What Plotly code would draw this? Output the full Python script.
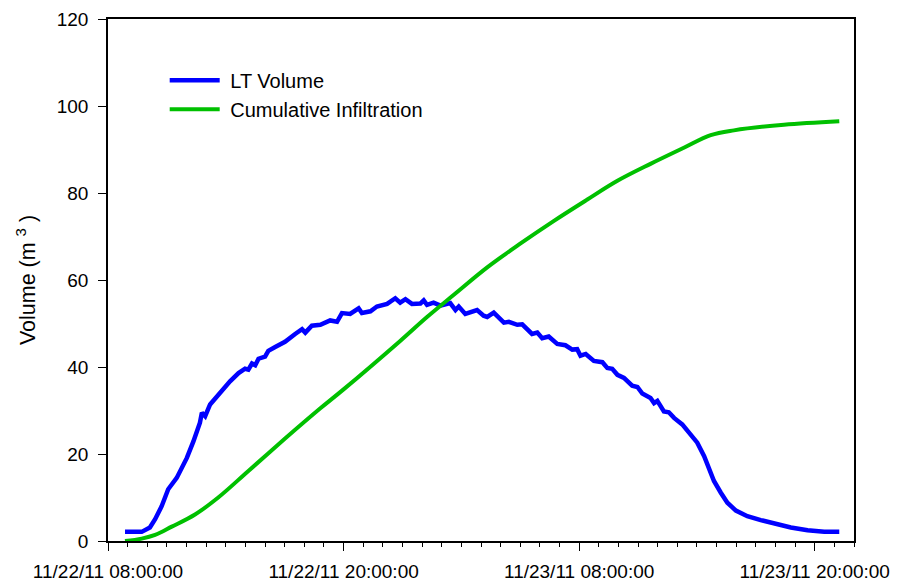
import plotly.graph_objs as go

# LT volume readings
lt_time = ["2011-11-22 08:52", "2011-11-22 09:43", "2011-11-22 10:08", "2011-11-22 10:24",
           "2011-11-22 10:44", "2011-11-22 11:04", "2011-11-22 11:30", "2011-11-22 12:01",
           "2011-11-22 12:21", "2011-11-22 12:41", "2011-11-22 12:47", "2011-11-22 12:57",
           "2011-11-22 13:12", "2011-11-22 13:37", "2011-11-22 14:03", "2011-11-22 14:13",
           "2011-11-22 14:39", "2011-11-22 14:59", "2011-11-22 15:09", "2011-11-22 15:20",
           "2011-11-22 15:30", "2011-11-22 15:40", "2011-11-22 16:00", "2011-11-22 16:10",
           "2011-11-22 16:31", "2011-11-22 17:01", "2011-11-22 17:32", "2011-11-22 17:53",
           "2011-11-22 18:03", "2011-11-22 18:23", "2011-11-22 18:49", "2011-11-22 19:19",
           "2011-11-22 19:40", "2011-11-22 19:55", "2011-11-22 20:20", "2011-11-22 20:46",
           "2011-11-22 20:56", "2011-11-22 21:22", "2011-11-22 21:42", "2011-11-22 22:13",
           "2011-11-22 22:38", "2011-11-22 22:53", "2011-11-22 23:09", "2011-11-22 23:29",
           "2011-11-22 23:55", "2011-11-23 00:05", "2011-11-23 00:15", "2011-11-23 00:35",
           "2011-11-23 00:56", "2011-11-23 01:16", "2011-11-23 01:26", "2011-11-23 01:42",
           "2011-11-23 01:52", "2011-11-23 02:12", "2011-11-23 02:28", "2011-11-23 02:48",
           "2011-11-23 03:08", "2011-11-23 03:19", "2011-11-23 03:39", "2011-11-23 04:10",
           "2011-11-23 04:25", "2011-11-23 04:51", "2011-11-23 05:06", "2011-11-23 05:36",
           "2011-11-23 05:52", "2011-11-23 06:07", "2011-11-23 06:27", "2011-11-23 06:53",
           "2011-11-23 07:18", "2011-11-23 07:39", "2011-11-23 07:54", "2011-11-23 08:04",
           "2011-11-23 08:20", "2011-11-23 08:45", "2011-11-23 09:11", "2011-11-23 09:26",
           "2011-11-23 09:41", "2011-11-23 09:57", "2011-11-23 10:17", "2011-11-23 10:42",
           "2011-11-23 10:58", "2011-11-23 11:13", "2011-11-23 11:38", "2011-11-23 11:49",
           "2011-11-23 11:59", "2011-11-23 12:19", "2011-11-23 12:34", "2011-11-23 12:50",
           "2011-11-23 13:15", "2011-11-23 13:41", "2011-11-23 14:01", "2011-11-23 14:22",
           "2011-11-23 14:37", "2011-11-23 14:52", "2011-11-23 15:13", "2011-11-23 15:33",
           "2011-11-23 15:59", "2011-11-23 16:34", "2011-11-23 17:15", "2011-11-23 17:56",
           "2011-11-23 18:47", "2011-11-23 19:38", "2011-11-23 20:29", "2011-11-23 21:15"]
lt_volume = [2.1, 2.1, 3.1, 5.0,
             8.0, 11.9, 14.5, 19.1,
             22.9, 27.2, 29.5, 28.7,
             31.4, 33.6, 35.9, 36.7,
             38.6, 39.6, 39.4, 40.8,
             40.4, 41.9, 42.4, 43.7,
             44.6, 45.8, 47.6, 48.7,
             47.9, 49.5, 49.7, 50.7,
             50.4, 52.4, 52.2, 53.5,
             52.4, 52.8, 53.9, 54.5,
             55.8, 54.8, 55.6, 54.5,
             54.6, 55.3, 54.3, 54.8,
             54.1, 54.5, 54.7, 53.1,
             53.9, 52.2, 52.7, 53.1,
             51.8, 51.5, 52.5, 50.2,
             50.4, 49.7, 49.8, 47.6,
             47.9, 46.6, 47.0, 45.3,
             45.0, 44.0, 44.1, 42.6,
             43.0, 41.4, 41.1, 39.8,
             39.6, 38.2, 37.5, 35.7,
             35.4, 33.9, 32.9, 31.7,
             32.2, 29.8, 29.6, 28.3,
             26.8, 24.5, 22.6, 19.5,
             16.4, 13.8, 11.1, 8.8,
             7.0, 5.7, 4.8, 4.0,
             3.1, 2.45, 2.15, 2.15]

# cumulative infiltration
inf_time = ["2011-11-22 08:52", "2011-11-22 09:43", "2011-11-22 10:24", "2011-11-22 11:15",
            "2011-11-22 12:26", "2011-11-22 13:37", "2011-11-22 15:09", "2011-11-22 17:02",
            "2011-11-22 18:49", "2011-11-22 19:59", "2011-11-22 22:53", "2011-11-23 00:15",
            "2011-11-23 01:37", "2011-11-23 03:19", "2011-11-23 05:01", "2011-11-23 06:43",
            "2011-11-23 08:25", "2011-11-23 09:57", "2011-11-23 11:38", "2011-11-23 13:20",
            "2011-11-23 14:42", "2011-11-23 15:53", "2011-11-23 18:26", "2011-11-23 21:15"]
inf_volume = [0.0, 0.55, 1.4, 3.3,
              6.1, 10.0, 16.1, 23.6,
              30.5, 34.8, 46.0, 51.5,
              56.6, 62.9, 68.4, 73.6,
              78.5, 82.8, 86.7, 90.4,
              93.3, 94.4, 95.7, 96.5]

fnt = dict(family="Liberation Sans, Arial, sans-serif", size=19, color="black")
leg_fnt = dict(family="Liberation Sans, Arial, sans-serif", size=20, color="black")
ttl_fnt = dict(family="Liberation Sans, Arial, sans-serif", size=21.5, color="black")

fig = go.Figure()
fig.add_trace(go.Scatter(x=lt_time, y=lt_volume, mode="lines", name=" LT Volume",
                         line=dict(color="#0000FF", width=4.5)))
fig.add_trace(go.Scatter(x=inf_time, y=inf_volume, mode="lines", name=" Cumulative Infiltration",
                         line=dict(color="#00C000", width=4, shape="spline", smoothing=1.0)))

# page body has an 8px margin, so the figure is drawn 8px smaller and offset
fig.update_layout(
    width=893, height=580,
    margin=dict(l=100, r=47, t=10.5, b=46.5, autoexpand=False),
    paper_bgcolor="white", plot_bgcolor="white",
    font=fnt,
    showlegend=True,
    legend=dict(x=0.076, y=0.92, xanchor="left", yanchor="top",
                bgcolor="rgba(0,0,0,0)", font=leg_fnt, itemwidth=50,
                tracegroupgap=0),
)
fig.update_xaxes(
    range=["2011-11-22 08:00", "2011-11-23 22:00"],
    tick0="2011-11-22 08:00", dtick=43200000,
    tickformat="%m/%d/%y %H:%M:%S",
    showgrid=False, zeroline=False,
    showline=True, linecolor="black", linewidth=1.5, mirror=True,
    ticks="outside", ticklen=8, tickcolor="black",
    minor=dict(dtick=3600000, ticks="outside", ticklen=4, tickcolor="black", showgrid=False),
    tickfont=fnt, ticklabelstandoff=4,
)
fig.update_yaxes(
    range=[0, 120], dtick=20,
    showgrid=False, zeroline=False,
    showline=True, linecolor="black", linewidth=1.5, mirror=True,
    ticks="outside", ticklen=8, tickcolor="black",
    tickfont=fnt, ticklabelstandoff=6,
    title=dict(text="Volume (m <sup>3</sup> )", font=ttl_fnt, standoff=15),
)

fig.write_html("out.html")
